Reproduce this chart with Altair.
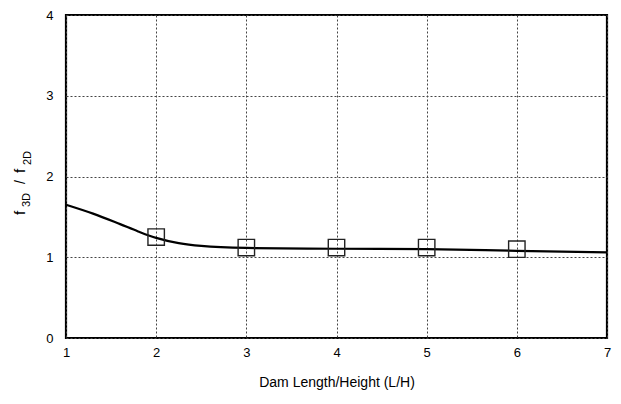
import altair as alt
import pandas as pd

# Curve values (L/H vs f3D/f2D)
curve_x = [1, 1.3, 1.6, 1.8, 2, 2.25, 2.5, 3, 4, 5, 6, 7]
curve_y = [1.65, 1.54, 1.41, 1.32, 1.24, 1.175, 1.14, 1.115, 1.105, 1.10, 1.08, 1.06]

# Marker values
pts_x = [2, 3, 4, 5, 6]
pts_y = [1.25, 1.12, 1.12, 1.12, 1.10]

x_ticks = [1, 2, 3, 4, 5, 6, 7]
y_ticks = [0, 1, 2, 3, 4]

curve = pd.DataFrame({"x": curve_x, "y": curve_y})
pts = pd.DataFrame({"x": pts_x, "y": pts_y})

FONT = "Liberation Sans"

xs = alt.Scale(domain=[1, 7], nice=False, zero=False)
ys = alt.Scale(domain=[0, 4], nice=False)

xax = alt.Axis(values=x_ticks, format="d", title="Dam Length/Height (L/H)", grid=True,
               gridDash=[2, 2], gridColor="#444", gridWidth=1, domain=False,
               ticks=False, labelPadding=8, labelFontSize=13, labelFont=FONT,
               labelColor="black", titleFont=FONT, titleFontSize=14,
               titleFontWeight="normal", titleColor="black", titlePadding=16,
               labelFlush=False)
yax = alt.Axis(values=y_ticks, format="d", title=None, grid=True, gridDash=[2, 2],
               gridColor="#444", gridWidth=1, domain=False, ticks=False,
               labelPadding=13, labelFontSize=13, labelFont=FONT,
               labelColor="black", labelFlush=False)

line = alt.Chart(curve).mark_line(color="black", strokeWidth=2.2,
                                  interpolate="monotone").encode(
    x=alt.X("x:Q", scale=xs, axis=xax),
    y=alt.Y("y:Q", scale=ys, axis=yax),
)

marks = alt.Chart(pts).mark_point(shape="square", size=270, filled=False,
                                  color="#222", strokeWidth=1.4, opacity=1).encode(
    x=alt.X("x:Q", scale=xs),
    y=alt.Y("y:Q", scale=ys),
)

def ttext(txt, x, y, size):
    return alt.Chart(pd.DataFrame({"t": [txt]})).mark_text(
        angle=270, align="left", baseline="alphabetic", font=FONT,
        fontSize=size, color="black").encode(
        x=alt.value(x), y=alt.value(y), text="t:N")

title_layers = [
    ttext("f", -41, 200, 15),
    ttext("3D", -36, 192, 11),
    ttext("/", -41, 169, 14),
    ttext("f", -41, 158, 15),
    ttext("2D", -35, 150, 11),
]

chart = alt.layer(line, marks, *title_layers).properties(
    width=541, height=323, autosize="none", background="white",
    padding={"left": 58, "top": 7, "right": 6, "bottom": 58},
).configure_view(stroke="black", strokeWidth=2.2, strokeOpacity=1)

chart.save("out.html", embed_options={"renderer": "svg", "actions": False})
